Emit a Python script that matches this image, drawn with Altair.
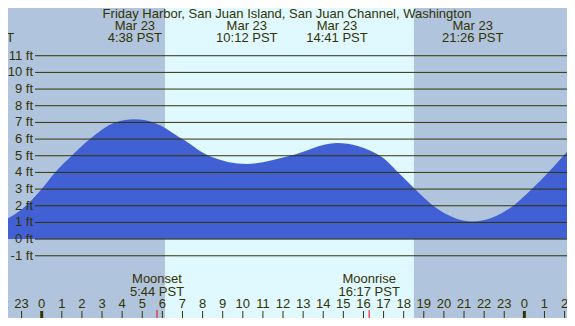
import altair as alt
import pandas as pd

# ---- data (hours since 00:00 Mar 23, PST; heights in ft) ----
tide_hours = [-2.07, -0.78, 0.0, 0.66, 1.49, 2.40, 3.65, 4.63, 5.55, 7.0, 8.3, 10.2,
              12.35, 14.68, 16.82, 17.73, 18.56, 19.47, 21.43, 23.45, 24.37, 25.19, 25.94, 26.52]
tide_feet = [1.0, 2.0, 3.0, 4.0, 5.0, 6.0, 7.0, 7.19, 7.0, 6.0, 5.0, 4.51,
             5.0, 5.77, 5.0, 4.0, 3.0, 2.0, 1.05, 2.0, 3.0, 4.0, 5.0, 5.75]

day_start = [6.13]
day_end = [18.51]

ft_levels = [-1, 0, 1, 2, 3, 4, 5, 6, 7, 8, 9, 10, 11]
ft_labels = ["-1 ft", "0 ft", "1 ft", "2 ft", "3 ft", "4 ft", "5 ft", "6 ft",
             "7 ft", "8 ft", "9 ft", "10 ft", "11 ft"]

tick_hours = list(range(-2, 27))
tick_labels = ["22", "23", "0", "1", "2", "3", "4", "5", "6", "7", "8", "9", "10", "11",
               "12", "13", "14", "15", "16", "17", "18", "19", "20", "21", "22", "23",
               "0", "1", "2"]
midnight_hours = [0, 24]

moon_hours = [5.733, 16.283]
moon_events = ["Moonset", "Moonrise"]
moon_times = ["5:44 PST", "16:17 PST"]

extreme_hours = [-2.9, 4.633, 10.2, 14.683, 21.433]
extreme_dates = ["Mar 22", "Mar 23", "Mar 23", "Mar 23", "Mar 23"]
extreme_times = ["21:06 PST", "4:38 PST", "10:12 PST", "14:41 PST", "21:26 PST"]

title_text = "Friday Harbor, San Juan Island, San Juan Channel, Washington"

# ---- styling ----
W, H = 559, 310
NIGHT = "#b0c4de"
DAY = "#e0f8ff"
WATER = "#4160d4"
INK = "#333300"
FONT = "Liberation Sans"
FS = 13

xs = alt.Scale(domain=[-1.676, 26.121], nice=False, zero=False)
ys = alt.Scale(domain=[-4.733, 13.863], nice=False, zero=False)

tide = pd.DataFrame({"h": tide_hours, "ft": tide_feet})
day = pd.DataFrame({"a": day_start, "b": day_end})
grid = pd.DataFrame({"ft": ft_levels, "lab": ft_labels})
ticks = pd.DataFrame({"h": tick_hours, "lab": tick_labels})
mid = pd.DataFrame({"h": midnight_hours})
moon = pd.DataFrame({"h": moon_hours, "ev": moon_events, "t": moon_times})
ext = pd.DataFrame({"h": extreme_hours, "d": extreme_dates, "t": extreme_times})
ttl = pd.DataFrame({"t": [title_text]})

X = lambda f: alt.X(f, type="quantitative", scale=xs, axis=None)
Y = lambda f: alt.Y(f, type="quantitative", scale=ys, axis=None)


def txt(df, x, y, field):
    return alt.Chart(df).mark_text(
        align="center", baseline="alphabetic", font=FONT, fontSize=FS, color=INK
    ).encode(x=x, y=alt.value(y), text=field)


day_rect = alt.Chart(day).mark_rect(color=DAY).encode(
    x=X("a"), x2="b", y=alt.value(0), y2=alt.value(H))

water = alt.Chart(tide).mark_area(color=WATER, interpolate="monotone", clip=True).encode(
    x=X("h"), y=Y("ft"), y2=alt.value(H))

grid_rules = alt.Chart(grid).mark_rule(color=INK, strokeWidth=1).encode(
    y=Y("ft"), x=alt.value(27), x2=alt.value(W))

grid_text = alt.Chart(grid).mark_text(
    align="right", baseline="middle", font=FONT, fontSize=FS, color=INK).encode(
    y=Y("ft"), x=alt.value(25), text="lab")

hour_ticks = alt.Chart(ticks).mark_rule(color=INK, strokeWidth=1).encode(
    x=X("h"), y=alt.value(303), y2=alt.value(H))

mid_ticks = alt.Chart(mid).mark_rule(color=INK, strokeWidth=3).encode(
    x=X("h"), y=alt.value(303), y2=alt.value(H))

moon_ticks = alt.Chart(moon).mark_rule(color="#ff0000", strokeWidth=1).encode(
    x=X("h"), y=alt.value(302), y2=alt.value(H))

hour_text = txt(ticks, X("h"), 300, "lab")
moon_ev = txt(moon, X("h"), 275, "ev")
moon_t = txt(moon, X("h"), 287.5, "t")
ext_d = txt(ext, X("h"), 21.8, "d")
ext_t = txt(ext, X("h"), 34.3, "t")
title = txt(ttl, alt.value(279), 9.8, "t")

chart = alt.layer(
    day_rect, water, grid_rules, grid_text, hour_ticks, mid_ticks, moon_ticks,
    hour_text, moon_ev, moon_t, ext_d, ext_t, title
).properties(
    width=W, height=H, background=NIGHT, padding=0,
    autosize=alt.AutoSizeParams(type="none")
).configure_view(stroke=None)

chart.save("out.html", embed_options={"renderer": "svg", "actions": False})
